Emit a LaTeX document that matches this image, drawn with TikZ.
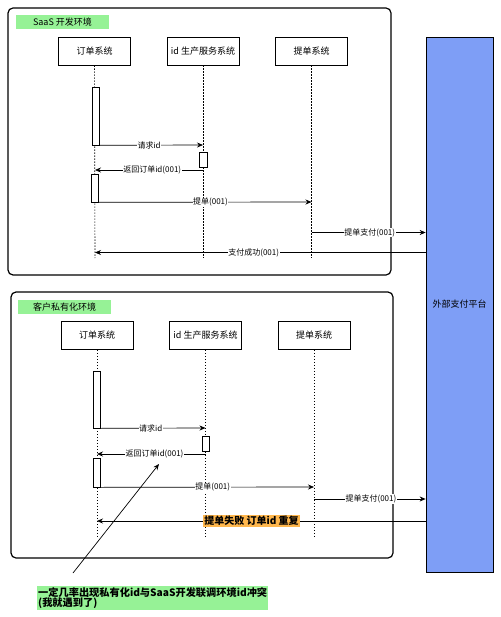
\documentclass[tikz,border=0pt]{standalone}
\usepackage{fontspec}
\setmainfont{Noto Sans CJK SC}
\usetikzlibrary{arrows.meta}
\definecolor{envgreen}{RGB}{150,242,150}
\definecolor{paybl}{RGB}{126,158,246}
\definecolor{failor}{RGB}{255,183,77}
\tikzset{
  frame/.style={draw, line width=1.2pt, rounded corners=5pt},
  envlabel/.style={fill=envgreen, minimum width=93pt, minimum height=14pt, inner sep=0pt, font=\fontsize{9}{10}\selectfont},
  actor/.style={draw, line width=0.7pt, minimum width=72pt, minimum height=28pt, inner sep=0pt, font=\fontsize{9}{10}\selectfont},
  life/.style={draw, dash pattern=on 1.5pt off 1.5pt, line width=0.6pt},
  actbox/.style={draw, fill=white, line width=0.7pt, minimum width=7pt, inner sep=0pt},
  msg/.style={draw, line width=0.7pt, -{Stealth[length=6pt,width=5pt]}},
  mlabel/.style={fill=white, inner sep=0.5pt, font=\fontsize{8}{9}\selectfont},
}
\begin{document}
\begin{tikzpicture}[x=1pt,y=-1pt]
\useasboundingbox (0,0) rectangle (500,617);

% ---------- external payment platform ----------
\node[draw, line width=0.7pt, fill=paybl, minimum width=67pt, minimum height=535pt, inner sep=0pt,
      font=\fontsize{9}{10}\selectfont] (pay) at (459.5,304.5) {外部支付平台};

% ---------- top section ----------
\draw[frame] (8,8) rectangle (391,275);
\node[envlabel] (env1) at (62.5,22) {SaaS 开发环境};
\node[actor] (A1) at (94.5,51) {订单系统};
\node[actor] (B1) at (203,51) {id 生产服务系统};
\node[actor] (C1) at (311.5,51) {提单系统};
\coordinate (A1e) at (95,258);
\coordinate (B1e) at (203,258);
\coordinate (C1e) at (311.5,258);
\draw[life] (A1) -- (A1e);
\draw[life] (B1) -- (B1e);
\draw[life] (C1) -- (C1e);
\node[actbox, minimum height=58pt] (a1) at (95.5,116) {};
\node[actbox, minimum width=8pt, minimum height=15pt] (b1) at (203,159.5) {};
\node[actbox, minimum height=28pt] (a2) at (95,188) {};

\coordinate (m1e) at (203,145);
\draw[msg] (a1.south east) -- node[mlabel, pos=0.48] {请求id} (m1e);
\coordinate (m2s) at (203,170);
\coordinate (m2e) at (95,170);
\draw[msg] (m2s) -- node[mlabel, pos=0.47] {返回订单id(001)} (m2e);
\coordinate (m3e) at (311.5,202);
\draw[msg] (a2.south east) -- node[mlabel, pos=0.525] {提单(001)} (m3e);
\coordinate (m4s) at (311.5,232.5);
\draw[msg] (m4s) -- node[mlabel, pos=0.51] {提单支付(001)} (pay.west |- m4s);
\coordinate (m5e) at (95,252.5);
\draw[msg] (pay.west |- m5e) -- node[mlabel, pos=0.52] {支付成功(001)} (m5e);

% ---------- bottom section ----------
\draw[frame] (11,292) rectangle (393,558);
\node[envlabel] (env2) at (64.5,307) {客户私有化环境};
\node[actor] (A2) at (97,335.5) {订单系统};
\node[actor] (B2) at (205.5,335.5) {id 生产服务系统};
\node[actor] (C2) at (314,335.5) {提单系统};
\coordinate (A2e) at (97,538);
\coordinate (B2e) at (205.5,538);
\coordinate (C2e) at (314,538);
\draw[life] (A2) -- (A2e);
\draw[life] (B2) -- (B2e);
\draw[life] (C2) -- (C2e);
\node[actbox, minimum height=57pt] (a3) at (96.5,399.5) {};
\node[actbox, minimum height=15pt] (b2) at (205.5,443.5) {};
\node[actbox, minimum height=29pt] (a4) at (97,472.5) {};

\coordinate (n1e) at (205.5,428);
\draw[msg] (a3.south east) -- node[mlabel, pos=0.48] {请求id} (n1e);
\coordinate (n2s) at (205.5,454);
\coordinate (n2e) at (97,454);
\draw[msg] (n2s) -- node[mlabel, pos=0.47] (ret2) {返回订单id(001)} (n2e);
\coordinate (n3e) at (314,487);
\draw[msg] (a4.south east) -- node[mlabel, pos=0.525] {提单(001)} (n3e);
\coordinate (n4s) at (314,499);
\draw[msg] (n4s) -- node[mlabel, pos=0.51] {提单支付(001)} (pay.west |- n4s);
\coordinate (n5e) at (97,521);
\draw[msg] (pay.west |- n5e) -- node[pos=0.53, fill=failor, inner sep=1pt, font=\bfseries\fontsize{10}{11}\selectfont] {提单失败 订单id 重复} (n5e);

% ---------- annotation ----------
\node[fill=envgreen, anchor=north west, inner sep=1pt, align=left, text width=229pt,
      font=\bfseries\fontsize{10.2}{10.5}\selectfont] (note) at (37,586)
  {一定几率出现私有化id与SaaS开发联调环境id冲突\\(我就遇到了)};
\coordinate (noteS) at (73,573);
\coordinate (noteT) at (159,464);
\draw[msg] (noteS) -- (noteT);
\end{tikzpicture}
\end{document}
